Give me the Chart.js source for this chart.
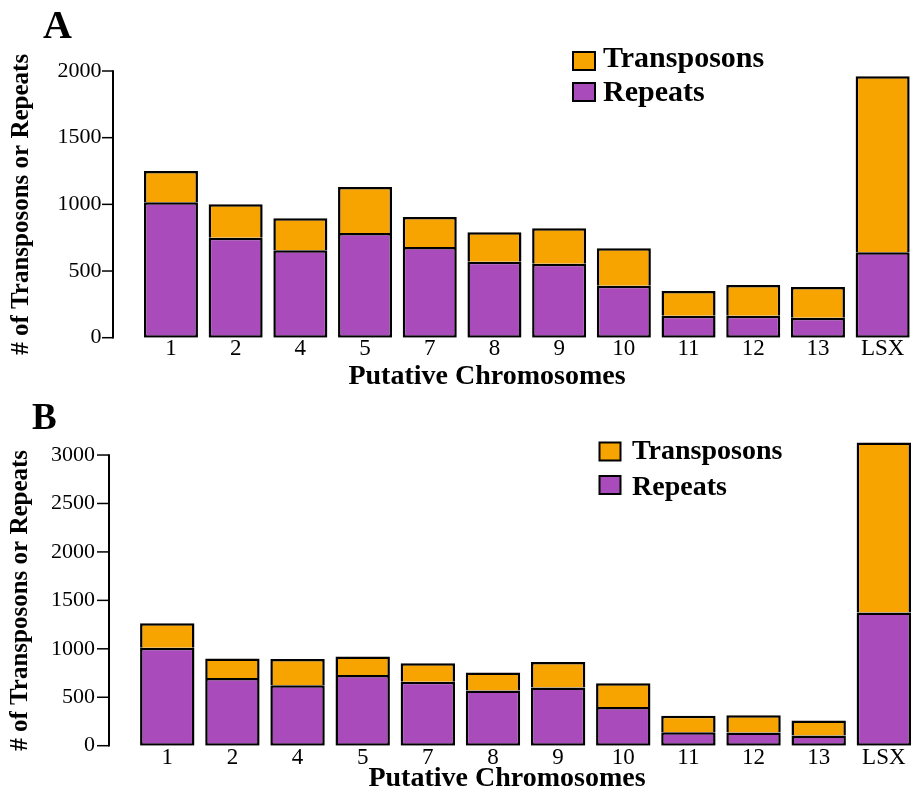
<!DOCTYPE html>
<html>
<head>
<meta charset="utf-8">
<script src="https://cdn.jsdelivr.net/npm/chart.js@4.4.1/dist/chart.umd.min.js"></script>
<style>
  html, body { margin: 0; padding: 0; background: #fff; }
  canvas { display: block; }
</style>
</head>
<body>
<canvas id="chartA" width="922" height="396"></canvas>
<canvas id="chartB" width="922" height="396"></canvas>
<script>
// ------------------------------------------------------------
// Data
// ------------------------------------------------------------
const CHROMOSOMES = ['1', '2', '4', '5', '7', '8', '9', '10', '11', '12', '13', 'LSX'];

// Panel A
const REPEATS_A     = [1015, 750, 655, 785, 680, 570, 555, 390, 165, 165, 150, 640];
const TRANSPOSONS_A = [235, 250, 240, 345, 225, 220, 265, 280, 185, 230, 230, 1320];
const Y_TICKS_A     = [0, 500, 1000, 1500, 2000];

// Panel B
const REPEATS_B     = [1010, 700, 625, 730, 660, 570, 600, 400, 140, 135, 105, 1375];
const TRANSPOSONS_B = [255, 200, 270, 190, 190, 185, 265, 245, 170, 180, 155, 1755];
const Y_TICKS_B     = [0, 500, 1000, 1500, 2000, 2500, 3000];

const ORANGE = '#F7A400';
const PURPLE = '#A94BBA';
const SERIF = "'Liberation Serif', 'Times New Roman', serif";

Chart.defaults.font.family = SERIF;
Chart.defaults.color = '#000';

// ------------------------------------------------------------
// Plugin: detached y axis line, titles, panel letter, legend
// ------------------------------------------------------------
const panelDecor = {
    id: 'panelDecor',
    afterDraw(chart, args, opts) {
        const { ctx, chartArea } = chart;
        const y = chart.scales.y;
        const ticks = y.ticks;
        ctx.save();
        ctx.strokeStyle = '#000';

        // y axis sits a little left of the first bar, ends at the last tick
        const ax = chartArea.left - opts.axisGap;
        const y0 = y.getPixelForValue(ticks[0].value);
        const y1 = y.getPixelForValue(ticks[ticks.length - 1].value);
        ctx.lineWidth = 2;
        ctx.beginPath();
        ctx.moveTo(ax, y0 + 0.75);
        ctx.lineTo(ax, y1 - 0.75);
        ctx.stroke();
        ctx.lineWidth = 1.5;
        ticks.forEach(t => {
            const py = y.getPixelForValue(t.value);
            ctx.beginPath();
            ctx.moveTo(ax - opts.tickLen, py);
            ctx.lineTo(ax, py);
            ctx.stroke();
        });

        ctx.fillStyle = '#000';

        // y axis title, centred on the tick range
        ctx.save();
        ctx.translate(opts.yTitleX, (y0 + y1) / 2);
        ctx.rotate(-Math.PI / 2);
        ctx.textAlign = 'center';
        ctx.textBaseline = 'middle';
        ctx.font = `bold 25px ${SERIF}`;
        ctx.fillText('# of Transposons or Repeats', 0, 0);
        ctx.restore();

        // panel letter
        ctx.textBaseline = 'alphabetic';
        ctx.textAlign = 'left';
        ctx.font = `bold ${opts.letterSize}px ${SERIF}`;
        ctx.fillText(opts.letter, opts.letterX, opts.letterY);

        // x axis title
        ctx.textAlign = 'center';
        ctx.font = `bold 28px ${SERIF}`;
        ctx.fillText('Putative Chromosomes', opts.xTitleX, opts.xTitleY);

        // legend (top series first)
        const items = chart.data.datasets.slice().reverse();
        ctx.textAlign = 'left';
        items.forEach((ds, i) => {
            const by = opts.boxY[i];
            ctx.fillStyle = ds.backgroundColor;
            ctx.fillRect(opts.boxX, by, opts.boxW, opts.boxH);
            ctx.lineWidth = 2;
            ctx.strokeRect(opts.boxX, by, opts.boxW, opts.boxH);
            ctx.fillStyle = '#000';
            ctx.font = `bold ${opts.legendSize}px ${SERIF}`;
            ctx.fillText(ds.label, opts.textX, opts.textY[i]);
        });
        ctx.restore();
    }
};

// ------------------------------------------------------------
// Chart builder
// ------------------------------------------------------------
function makeChart(canvasId, repeats, transposons, yTicks, p) {
    return new Chart(document.getElementById(canvasId), {
        type: 'bar',
        data: {
            labels: CHROMOSOMES,
            datasets: [
                {
                    label: 'Repeats',
                    data: repeats,
                    backgroundColor: PURPLE,
                    borderColor: '#000',
                    borderWidth: 2.5,
                    borderSkipped: false,
                    barPercentage: 0.835,
                    categoryPercentage: 1.0
                },
                {
                    label: 'Transposons',
                    data: transposons,
                    backgroundColor: ORANGE,
                    borderColor: '#000',
                    borderWidth: 2.5,
                    borderSkipped: 'start',
                    barPercentage: 0.835,
                    categoryPercentage: 1.0
                }
            ]
        },
        options: {
            responsive: false,
            animation: false,
            layout: {
                padding: { top: p.padTop, right: p.padRight, bottom: 0, left: 0 }
            },
            plugins: {
                legend: { display: false },
                tooltip: { enabled: false },
                panelDecor: p.decor
            },
            scales: {
                x: {
                    stacked: true,
                    grid: { display: false, drawTicks: false },
                    border: { display: false },
                    ticks: {
                        autoSkip: false,
                        maxRotation: 0,
                        padding: p.xTickPad,
                        font: { size: 23, lineHeight: p.xTickLH }
                    },
                    afterFit(scale) { scale.height = p.xHeight; }
                },
                y: {
                    stacked: true,
                    min: 0,
                    max: p.yMax,
                    grid: { display: false, drawTicks: false },
                    border: { display: false },
                    ticks: {
                        padding: p.yTickPad,
                        font: { size: 22 },
                        callback: v => String(v)
                    },
                    afterBuildTicks(scale) {
                        scale.ticks = yTicks.map(v => ({ value: v }));
                    },
                    afterFit(scale) {
                        // fixed width; the big label padding must not eat into the plot height
                        scale.width = p.yWidth;
                        scale.paddingTop = 0;
                        scale.paddingBottom = 0;
                    }
                }
            }
        },
        plugins: [panelDecor]
    });
}

makeChart('chartA', REPEATS_A, TRANSPOSONS_A, Y_TICKS_A, {
    yMax: 2000,
    padTop: 71, padRight: 7, yWidth: 138.6, xHeight: 58.3,
    yTickPad: 37, xTickPad: 2, xTickLH: 0.8,
    decor: {
        axisGap: 25.6, tickLen: 11, yTitleX: 22,
        letter: 'A', letterSize: 40, letterX: 43, letterY: 38,
        xTitleX: 487, xTitleY: 384,
        boxX: 573, boxW: 22, boxH: 18, boxY: [52, 83],
        legendSize: 30, textX: 603, textY: [67, 100.5]
    }
});

makeChart('chartB', REPEATS_B, TRANSPOSONS_B, Y_TICKS_B, {
    yMax: 3150,
    padTop: 44.5, padRight: 5.6, yWidth: 134.7, xHeight: 46.3,
    yTickPad: 39.7, xTickPad: 1, xTickLH: 1,
    decor: {
        axisGap: 25.7, tickLen: 12, yTitleX: 21,
        letter: 'B', letterSize: 37, letterX: 32, letterY: 33,
        xTitleX: 507, xTitleY: 390,
        boxX: 599.5, boxW: 21, boxH: 18, boxY: [46.5, 80],
        legendSize: 28, textX: 632, textY: [63.3, 99]
    }
});
</script>
</body>
</html>
